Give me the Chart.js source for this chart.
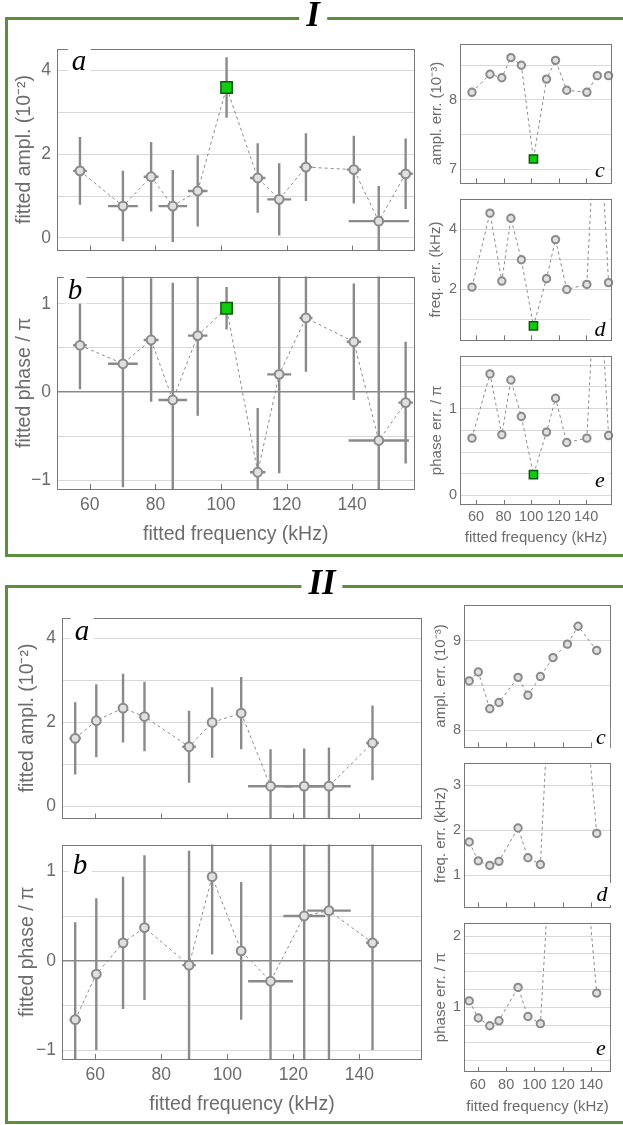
<!DOCTYPE html>
<html><head><meta charset="utf-8">
<script src="https://cdn.jsdelivr.net/npm/chart.js@4.4.1/dist/chart.umd.min.js"></script>
<style>
html,body{margin:0;padding:0;background:#fff;width:623px;height:1125px;overflow:hidden;position:relative;font-family:"Liberation Sans",Arial,sans-serif}
canvas{position:absolute}
.frame{position:absolute;border:3px solid #5d8e3c;box-sizing:border-box}
.sec{position:absolute;transform:translate(-50%,-50%);background:#fff;padding:0 7px;font:italic bold 35px "Liberation Serif",serif;color:#000;line-height:1;z-index:5;white-space:nowrap}
.lbl{position:absolute;transform:translate(-50%,-50%);background:#fff;padding:0 4px;font-family:"Liberation Serif",serif;font-style:italic;color:#000;line-height:1;z-index:5}
</style></head><body>
<div class="frame" style="left:5px;top:17px;width:700px;height:540px"></div>
<div class="frame" style="left:5px;top:585px;width:700px;height:539px"></div>
<div class="sec" style="left:313px;top:14px">I</div>
<div class="sec" style="left:322px;top:582px">II</div>

<div class="lbl" style="left:79px;top:60px;font-size:29px">a</div>
<div class="lbl" style="left:75px;top:289px;font-size:29px">b</div>
<div class="lbl" style="left:600px;top:170px;font-size:22px">c</div>
<div class="lbl" style="left:600px;top:329px;font-size:22px">d</div>
<div class="lbl" style="left:600px;top:480px;font-size:22px">e</div>
<div class="lbl" style="left:82px;top:630px;font-size:29px">a</div>
<div class="lbl" style="left:80px;top:864px;font-size:29px">b</div>
<div class="lbl" style="left:601px;top:737px;font-size:22px">c</div>
<div class="lbl" style="left:602px;top:894px;font-size:22px">d</div>
<div class="lbl" style="left:601px;top:1048px;font-size:22px">e</div>

<script>
// ---------- data: section I ----------
const FREQ_I       = [57, 70.1, 78.7, 85.3, 92.9, 101.7, 111.2, 117.75, 125.9, 140.5, 148.1, 156.3];
const AMPL_I       = [1.6, 0.76, 1.46, 0.76, 1.12, 3.59, 1.43, 0.92, 1.69, 1.63, 0.4, 1.53];      // 10^-2
const AMPL_BAR_I   = [0.81, 0.84, 0.83, 0.86, 0.85, 0.72, 0.83, 0.86, 0.81, 0.81, 0.84, 0.84];    // 10^-2
const PHASE_I      = [0.53, 0.32, 0.59, -0.09, 0.64, 0.95, -0.91, 0.2, 0.84, 0.57, -0.55, -0.12];
const PHASE_BAR_I  = [0.5, 1.40, 0.70, 1.33, 0.91, 0.24, 0.73, 1.12, 0.61, 0.66, 3.0, 0.69];
const AMPL_ERR_I   = [8.11, 8.37, 8.32, 8.61, 8.50, 7.15, 8.30, 8.57, 8.14, 8.11, 8.35, 8.35];   // 10^-3
const FREQ_ERR_I   = [2.07, 4.53, 2.27, 4.36, 2.98, 0.78, 2.35, 3.65, 1.99, 2.16, 9.2, 2.22];    // kHz
const PHASE_ERR_I  = [0.66, 1.40, 0.70, 1.33, 0.91, 0.24, 0.73, 1.12, 0.61, 0.66, 3.0, 0.69];
const GREEN_I = 5;

// ---------- data: section II ----------
const FREQ_II      = [53.9, 60.3, 68.4, 74.9, 88.4, 95.4, 104.2, 113.1, 123.3, 130.8, 144.0];
const AMPL_II      = [1.62, 2.04, 2.34, 2.14, 1.42, 2.0, 2.22, 0.48, 0.48, 0.48, 1.51];
const AMPL_BAR_II  = [0.86, 0.87, 0.82, 0.83, 0.86, 0.84, 0.86, 0.88, 0.90, 0.92, 0.89];
const PHASE_II     = [-0.66, -0.15, 0.2, 0.37, -0.05, 0.94, 0.11, -0.23, 0.5, 0.56, 0.2];
const PHASE_BAR_II = [1.09, 0.85, 0.74, 0.81, 1.28, 0.87, 0.77, 3.8, 4.0, 4.2, 1.20];
const AMPL_ERR_II  = [8.55, 8.65, 8.24, 8.31, 8.59, 8.39, 8.60, 8.81, 8.96, 9.16, 8.89];
const FREQ_ERR_II  = [1.74, 1.32, 1.22, 1.31, 2.05, 1.39, 1.24, 6.8, 6.3, 6.6, 1.93];
const PHASE_ERR_II = [1.09, 0.85, 0.74, 0.81, 1.28, 0.87, 0.77, 3.8, 4.0, 4.2, 1.20];

// ---------- tick labels / titles ----------
const X_TICKS = [60, 80, 100, 120, 140];
const X_TITLE = 'fitted frequency (kHz)';
const T_AMPL = 'fitted ampl. (10\u207B\u00B2)';
const T_PHASE = 'fitted phase / \u03C0';
const T_AERR = 'ampl. err. (10\u207B\u00B3)';
const T_FERR = 'freq. err. (kHz)';
const T_PERR = 'phase err. / \u03C0';

const TXT = '#6c6c6c', GRID = '#d8d8d8', FRAME = '#777', MARK = '#8a8a8a';
const FAM = '"Liberation Sans", Arial, sans-serif';

function fmt(v){ return v < 0 ? '\u2212' + Math.abs(v) : String(v); }

function makePanel(p){
  const [l,t,r,b] = p.plot.map(Math.round);
  const big = !!p.big;
  const tickSize = big ? 17.5 : 14.5, titleSize = big ? 19.5 : 15;
  const CL = Math.round(p.yTitleX - 13);
  const MT = 6, MR = 8;
  const ML = l - CL;
  const MB = p.xTitleY ? Math.round(p.xTitleY + 15 - b) : 6;
  const W = r - l + ML + MR, H = b - t + MT + MB;
  const CT = t - MT;
  const cv = document.createElement('canvas');
  cv.width = W; cv.height = H;
  cv.style.left = CL + 'px'; cv.style.top = CT + 'px';
  cv.style.width = W + 'px'; cv.style.height = H + 'px';
  document.body.appendChild(cv);

  const pts = p.xs.map((x,i)=>({x, y:p.ys[i]}));
  const radius = big ? 4.4 : 3.7;
  const radii = p.xs.map((_,i)=> i===p.green ? 0 : radius);
  const datasets = [{
    data: pts, showLine: true, borderColor: '#8c8c8c', borderWidth: 1, borderDash: [3,3],
    pointRadius: radii, pointBackgroundColor: '#e0e0e0', pointBorderColor: MARK, pointBorderWidth: 2,
    order: 2, clip: {left: 8, right: 8, top: 0, bottom: 0}
  }];
  if (p.green !== undefined) {
    datasets.push({
      data: [pts[p.green]], showLine: false, pointStyle: 'rect', pointRadius: big ? 8 : 5.8,
      pointBackgroundColor: '#10cc10', pointBorderColor: '#0a5a0a', pointBorderWidth: 1.5, order: 1
    });
  }
  const lhT = titleSize * 1.2, lhK = tickSize * 1.2;
  const yTitlePad = (p.yTitleX - CL) - lhT/2;
  const xTitlePad = p.xTitleY ? (H - (p.xTitleY - CT) - lhT/2) : 0;
  const xTickPad = p.xLabelY ? (p.xLabelY - b - lhK/2) : 0;
  const isLab = v => p.labels.some(L => Math.abs(L - v) < 1e-6);

  const deco = {
    id: 'deco',
    beforeDatasetsDraw(chart){
      if (!p.xe && !p.ye) return;
      const {ctx, chartArea:a, scales:{x, y}} = chart;
      ctx.save();
      ctx.beginPath(); ctx.rect(a.left, a.top, a.right-a.left, a.bottom-a.top); ctx.clip();
      ctx.strokeStyle = MARK; ctx.lineWidth = 2.4; ctx.lineCap = 'butt';
      p.xs.forEach((xv,i)=>{
        const yv = p.ys[i];
        const px = x.getPixelForValue(xv), py = y.getPixelForValue(yv);
        ctx.beginPath();
        if (p.ye) { ctx.moveTo(px, y.getPixelForValue(yv - p.ye[i])); ctx.lineTo(px, y.getPixelForValue(yv + p.ye[i])); }
        if (p.xe) { ctx.moveTo(x.getPixelForValue(xv - p.xe[i]), py); ctx.lineTo(x.getPixelForValue(xv + p.xe[i]), py); }
        ctx.stroke();
      });
      ctx.restore();
    },
    afterDraw(chart){
      const {ctx, chartArea:a, scales:{x}} = chart;
      ctx.save();
      ctx.strokeStyle = FRAME; ctx.lineWidth = 1;
      ctx.strokeRect(Math.round(a.left)+0.5, Math.round(a.top)+0.5, Math.round(a.right-a.left)-1, Math.round(a.bottom-a.top)-1);
      X_TICKS.forEach(v=>{
        const px = Math.round(x.getPixelForValue(v)) + 0.5;
        ctx.beginPath(); ctx.moveTo(px, a.bottom); ctx.lineTo(px, a.bottom - 5); ctx.stroke();
      });
      ctx.restore();
    }
  };

  new Chart(cv, {
    type: 'scatter',
    data: { datasets },
    options: {
      responsive: false, animation: false, devicePixelRatio: 1, events: [],
      layout: { padding: { left: 0, top: MT, right: MR, bottom: 0 } },
      plugins: { legend: {display:false}, tooltip: {enabled:false} },
      scales: {
        x: {
          type: 'linear', min: p.x[0], max: p.x[1],
          afterFit: s => { s.height = MB; },
          grid: { display: false, drawTicks: false },
          border: { display: false },
          ticks: { display: !!p.xTitleY, stepSize: 20, includeBounds: false, autoSkip: false, maxRotation: 0,
                   padding: xTickPad, color: TXT, font: {family: FAM, size: tickSize},
                   callback: v => X_TICKS.includes(v) ? String(v) : '' },
          title: { display: !!p.xTitleY, text: X_TITLE, color: TXT, font: {family: FAM, size: titleSize},
                   padding: {top: 0, bottom: xTitlePad} }
        },
        y: {
          type: 'linear', min: p.y[0], max: p.y[1],
          afterFit: s => { s.width = ML; },
          grid: { drawTicks: false,
                  color: c => (p.zero && Math.abs(c.tick.value) < 1e-9) ? '#8a8a8a' : GRID,
                  lineWidth: c => (p.zero && Math.abs(c.tick.value) < 1e-9) ? 1.4 : 1 },
          border: { display: false },
          ticks: { stepSize: p.step, includeBounds: false, autoSkip: false, padding: big ? 6 : 3,
                   color: TXT, font: {family: FAM, size: tickSize},
                   callback: v => isLab(v) ? fmt(v) : '' },
          title: { display: true, text: p.ytitle, color: TXT, font: {family: FAM, size: titleSize},
                   padding: {top: yTitlePad, bottom: 0} }
        }
      }
    },
    plugins: [deco]
  });
}

const PANELS = [
  {plot:[57,38,416,261], x:[50,159], y:[-0.3,4.52], step:1, labels:[0,2,4], ytitle:T_AMPL, yTitleX:25, big:true,
   xs:FREQ_I, ys:AMPL_I, xe:FREQ_ERR_I, ye:AMPL_BAR_I, green:GREEN_I},
  {plot:[57,266,416,489], x:[50,159], y:[-1.1,1.31], step:0.5, labels:[-1,0,1], zero:true, ytitle:T_PHASE, yTitleX:25, big:true,
   xTitleY:535, xLabelY:505, xs:FREQ_I, ys:PHASE_I, xe:FREQ_ERR_I, ye:PHASE_BAR_I, green:GREEN_I},
  {plot:[460,38,612,189], x:[48.3,158.8], y:[6.8,8.81], step:0.5, labels:[7,8], ytitle:T_AERR, yTitleX:437,
   xs:FREQ_I, ys:AMPL_ERR_I, green:GREEN_I},
  {plot:[460,193,612,346], x:[48.3,158.8], y:[0.3,5.01], step:1, labels:[2,4], ytitle:T_FERR, yTitleX:436,
   xs:FREQ_I, ys:FREQ_ERR_I, green:GREEN_I},
  {plot:[460,350,612,505], x:[48.3,158.8], y:[-0.11,1.61], step:0.25, labels:[0,1], ytitle:T_PERR, yTitleX:437,
   xTitleY:538, xLabelY:517, xs:FREQ_I, ys:PHASE_ERR_I, green:GREEN_I},

  {plot:[62,607,422,829], x:[49.9,159], y:[-0.29,4.5], step:1, labels:[0,2,4], ytitle:T_AMPL, yTitleX:28, big:true,
   xs:FREQ_II, ys:AMPL_II, xe:FREQ_ERR_II, ye:AMPL_BAR_II},
  {plot:[62,834,422,1059], x:[49.9,159], y:[-1.1,1.3], step:0.5, labels:[-1,0,1], zero:true, ytitle:T_PHASE, yTitleX:28, big:true,
   xTitleY:1105, xLabelY:1075, xs:FREQ_II, ys:PHASE_II, xe:FREQ_ERR_II, ye:PHASE_BAR_II},
  {plot:[464,599,611,753], x:[50.2,154.1], y:[7.81,9.4], step:0.5, labels:[8,9], ytitle:T_AERR, yTitleX:441,
   xs:FREQ_II, ys:AMPL_ERR_II},
  {plot:[464,757,611,913], x:[50.2,154.1], y:[0.29,3.5], step:1, labels:[1,2,3], ytitle:T_FERR, yTitleX:441,
   xs:FREQ_II, ys:FREQ_ERR_II},
  {plot:[464,917,611,1072], x:[50.2,154.1], y:[0.09,2.19], step:0.25, labels:[1,2], ytitle:T_PERR, yTitleX:441,
   xTitleY:1107, xLabelY:1085, xs:FREQ_II, ys:PHASE_ERR_II}
];
PANELS.forEach(makePanel);
</script>
</body></html>
